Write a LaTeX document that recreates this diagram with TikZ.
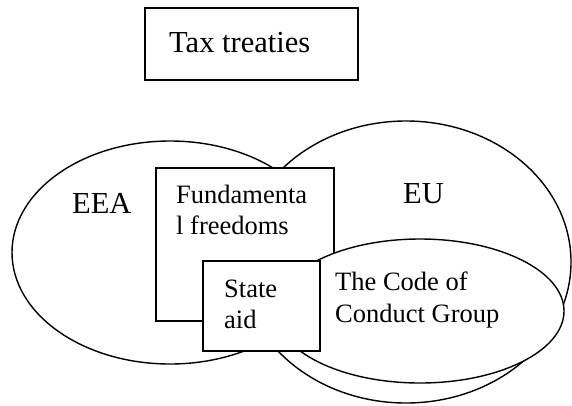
\documentclass[tikz,border=0pt]{standalone}
\usepackage{fontspec}
\setmainfont{Liberation Serif}
\usetikzlibrary{shapes.geometric}
\begin{document}
\begin{tikzpicture}[x=1pt,y=-1pt,
  outline/.style={draw=black,fill=white,line width=1.4pt,inner sep=0pt},
  oval/.style={outline,ellipse},
  boxshape/.style={outline,rectangle},
  big/.style={inner sep=0pt,anchor=base west,font=\fontsize{30.5}{34}\selectfont},
  small/.style={inner sep=0pt,anchor=base west,font=\fontsize{26.5}{31}\selectfont}]
\useasboundingbox (0,0) rectangle (572,405);
% Tax treaties box
\node[boxshape,minimum width=213pt,minimum height=72pt] (tax) at (251.5,44) {};
\node[big] (taxlabel) at (169,52) {Tax treaties};
% ellipses
\node[oval,minimum width=316pt,minimum height=223pt] (eea) at (170,252.5) {};
\node[oval,minimum width=330pt,minimum height=282pt] (eu) at (406,262) {};
\node[boxshape,minimum width=178pt,minimum height=153pt] (fund) at (245,244.5) {};
\node[oval,minimum width=288pt,minimum height=144pt] (coc) at (420,311) {};
\node[boxshape,minimum width=117pt,minimum height=90pt] (state) at (261.5,306) {};
% labels
\node[big] (eealabel) at (72,213) {EEA};
\node[big] (eulabel) at (403,203) {EU};
\node[small] (fund1) at (176,203) {Fundamenta};
\node[small] (fund2) at (176,234) {l freedoms};
\node[small] (state1) at (224,297) {State};
\node[small] (state2) at (224,328) {aid};
\node[small] (coc1) at (335,290) {The Code of};
\node[small] (coc2) at (335,322) {Conduct Group};
\end{tikzpicture}
\end{document}
